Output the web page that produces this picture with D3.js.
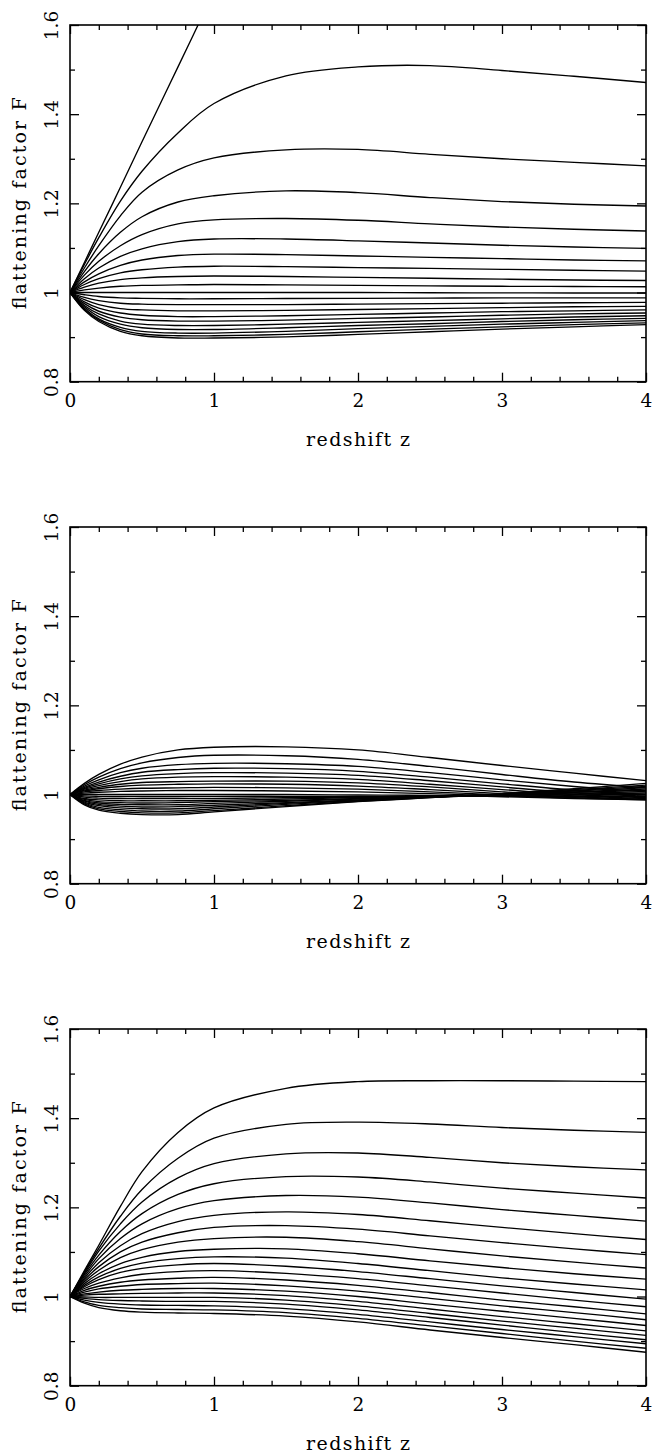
<!DOCTYPE html>
<html><head><meta charset="utf-8">
<script src="https://cdn.jsdelivr.net/npm/d3@7"></script>
<style>body{margin:0;background:#fff}svg{display:block}</style>
</head><body><svg id="c" width="654" height="1454"></svg>
<script>
// ---- data ----
const redshift = [0, 0.1, 0.2, 0.35, 0.5, 0.75, 1, 1.5, 2, 2.5, 3, 3.5, 4];

const panel1 = [
  [1, 1.0675, 1.135, 1.236, 1.338, 1.506, 1.675, null, null, null, null, null, null],
  [1, 1.063, 1.123, 1.205, 1.272, 1.358, 1.424, 1.486, 1.506, 1.509, 1.498, 1.485, 1.471],
  [1, 1.055, 1.105, 1.172, 1.225, 1.275, 1.302, 1.32, 1.321, 1.31, 1.30, 1.292, 1.284],
  [1, 1.047, 1.087, 1.135, 1.17, 1.203, 1.217, 1.228, 1.224, 1.213, 1.204, 1.198, 1.194],
  [1, 1.039, 1.07, 1.105, 1.13, 1.154, 1.163, 1.166, 1.162, 1.154, 1.147, 1.142, 1.138],
  [1, 1.031, 1.055, 1.081, 1.098, 1.114, 1.12, 1.12, 1.116, 1.111, 1.106, 1.102, 1.099],
  [1, 1.024, 1.042, 1.061, 1.073, 1.083, 1.086, 1.085, 1.082, 1.079, 1.076, 1.073, 1.071],
  [1, 1.018, 1.031, 1.044, 1.051, 1.057, 1.059, 1.058, 1.056, 1.054, 1.052, 1.05, 1.048],
  [1, 1.012, 1.021, 1.029, 1.033, 1.036, 1.037, 1.036, 1.034, 1.032, 1.030, 1.028, 1.027],
  [1, 1.006, 1.010, 1.014, 1.016, 1.017, 1.018, 1.017, 1.016, 1.015, 1.014, 1.0135, 1.013],
  [1, 1, 1, 1, 1, 1, 1, 1, 1, 0.9995, 0.9993, 0.999, 0.999],
  [1, 0.995, 0.991, 0.988, 0.987, 0.986, 0.986, 0.9865, 0.987, 0.9875, 0.988, 0.988, 0.988],
  [1, 0.989, 0.982, 0.976, 0.974, 0.973, 0.973, 0.973, 0.974, 0.975, 0.976, 0.977, 0.978],
  [1, 0.984, 0.973, 0.964, 0.961, 0.959, 0.959, 0.960, 0.962, 0.964, 0.966, 0.968, 0.969],
  [1, 0.979, 0.965, 0.954, 0.949, 0.946, 0.946, 0.948, 0.951, 0.954, 0.957, 0.959, 0.961],
  [1, 0.975, 0.958, 0.945, 0.939, 0.936, 0.936, 0.938, 0.942, 0.945, 0.949, 0.952, 0.954],
  [1, 0.971, 0.952, 0.936, 0.929, 0.926, 0.926, 0.929, 0.933, 0.937, 0.941, 0.945, 0.948],
  [1, 0.968, 0.946, 0.929, 0.921, 0.917, 0.917, 0.921, 0.926, 0.930, 0.935, 0.939, 0.942],
  [1, 0.965, 0.941, 0.922, 0.913, 0.909, 0.909, 0.913, 0.919, 0.924, 0.929, 0.933, 0.937],
  [1, 0.962, 0.938, 0.917, 0.907, 0.903, 0.903, 0.906, 0.912, 0.918, 0.923, 0.928, 0.932],
  [1, 0.960, 0.935, 0.913, 0.903, 0.898, 0.898, 0.9005, 0.906, 0.912, 0.918, 0.923, 0.928]
];

const panel2 = [
  [1, 1.025, 1.045, 1.068, 1.084, 1.100, 1.106, 1.107, 1.100, 1.083, 1.065, 1.048, 1.031],
  [1, 1.022, 1.039, 1.058, 1.071, 1.083, 1.088, 1.087, 1.079, 1.063, 1.045, 1.028, 1.015],
  [1, 1.019, 1.033, 1.049, 1.059, 1.067, 1.070, 1.069, 1.063, 1.049, 1.033, 1.018, 1.006],
  [1, 1.016, 1.028, 1.041, 1.050, 1.056, 1.059, 1.058, 1.052, 1.039, 1.024, 1.010, 1.000],
  [1, 1.014, 1.024, 1.035, 1.042, 1.047, 1.049, 1.048, 1.043, 1.031, 1.017, 1.004, 0.996],
  [1, 1.012, 1.020, 1.029, 1.035, 1.039, 1.040, 1.039, 1.034, 1.023, 1.011, 1.000, 0.993],
  [1, 1.010, 1.016, 1.023, 1.027, 1.029, 1.030, 1.030, 1.026, 1.017, 1.006, 0.997, 0.991],
  [1, 1.008, 1.013, 1.018, 1.021, 1.023, 1.024, 1.023, 1.019, 1.011, 1.002, 0.995, 0.989],
  [1, 1.006, 1.009, 1.012, 1.014, 1.015, 1.016, 1.015, 1.012, 1.006, 0.999, 0.993, 0.989],
  [1, 1.003, 1.005, 1.007, 1.008, 1.009, 1.009, 1.008, 1.006, 1.002, 0.997, 0.992, 0.988],
  [1, 1, 1, 1, 1, 1, 1, 1, 0.999, 0.998, 0.995, 0.991, 0.988],
  [1, 0.997, 0.996, 0.9955, 0.9955, 0.9955, 0.996, 0.996, 0.996, 0.996, 0.996, 0.996, 0.996],
  [1, 0.994, 0.992, 0.991, 0.991, 0.991, 0.991, 0.993, 0.994, 0.996, 0.998, 0.999, 1.000],
  [1, 0.991, 0.988, 0.986, 0.986, 0.986, 0.987, 0.990, 0.993, 0.996, 0.999, 1.001, 1.003],
  [1, 0.989, 0.984, 0.982, 0.981, 0.982, 0.984, 0.987, 0.991, 0.995, 0.999, 1.003, 1.006],
  [1, 0.987, 0.981, 0.978, 0.977, 0.977, 0.980, 0.985, 0.990, 0.995, 1.000, 1.005, 1.009],
  [1, 0.985, 0.978, 0.974, 0.972, 0.973, 0.976, 0.982, 0.988, 0.994, 1.000, 1.006, 1.012],
  [1, 0.983, 0.975, 0.970, 0.968, 0.968, 0.972, 0.980, 0.987, 0.994, 1.001, 1.008, 1.015],
  [1, 0.981, 0.971, 0.966, 0.963, 0.963, 0.968, 0.978, 0.986, 0.994, 1.001, 1.009, 1.018],
  [1, 0.979, 0.968, 0.962, 0.959, 0.959, 0.964, 0.975, 0.985, 0.993, 1.001, 1.011, 1.021],
  [1, 0.977, 0.965, 0.958, 0.955, 0.955, 0.961, 0.973, 0.984, 0.993, 1.002, 1.013, 1.025]
];

const panel3 = [
  [1, 1.058, 1.115, 1.202, 1.280, 1.368, 1.423, 1.467, 1.482, 1.484, 1.484, 1.483, 1.482],
  [1, 1.055, 1.108, 1.180, 1.240, 1.310, 1.355, 1.386, 1.391, 1.387, 1.379, 1.373, 1.368],
  [1, 1.052, 1.102, 1.163, 1.212, 1.266, 1.298, 1.320, 1.322, 1.312, 1.300, 1.291, 1.284],
  [1, 1.049, 1.093, 1.146, 1.186, 1.229, 1.253, 1.269, 1.268, 1.257, 1.243, 1.232, 1.221],
  [1, 1.045, 1.085, 1.130, 1.163, 1.197, 1.215, 1.2265, 1.223, 1.210, 1.195, 1.182, 1.169],
  [1, 1.041, 1.076, 1.114, 1.141, 1.168, 1.182, 1.190, 1.184, 1.170, 1.155, 1.141, 1.128],
  [1, 1.037, 1.067, 1.100, 1.122, 1.143, 1.155, 1.159, 1.151, 1.136, 1.121, 1.107, 1.094],
  [1, 1.033, 1.059, 1.087, 1.105, 1.122, 1.130, 1.133, 1.123, 1.107, 1.091, 1.077, 1.064],
  [1, 1.029, 1.051, 1.074, 1.088, 1.101, 1.106, 1.107, 1.096, 1.080, 1.065, 1.051, 1.039],
  [1, 1.025, 1.044, 1.063, 1.075, 1.085, 1.089, 1.086, 1.074, 1.058, 1.042, 1.028, 1.015],
  [1, 1.022, 1.038, 1.054, 1.063, 1.071, 1.074, 1.068, 1.056, 1.040, 1.024, 1.009, 0.994],
  [1, 1.018, 1.030, 1.042, 1.050, 1.056, 1.058, 1.052, 1.040, 1.024, 1.008, 0.992, 0.977],
  [1, 1.014, 1.023, 1.032, 1.037, 1.041, 1.043, 1.037, 1.025, 1.009, 0.992, 0.977, 0.961],
  [1, 1.010, 1.017, 1.023, 1.027, 1.029, 1.030, 1.024, 1.012, 0.996, 0.979, 0.964, 0.948],
  [1, 1.006, 1.010, 1.014, 1.016, 1.018, 1.018, 1.012, 1.000, 0.983, 0.967, 0.951, 0.935],
  [1, 1.003, 1.005, 1.006, 1.007, 1.008, 1.008, 1.002, 0.989, 0.972, 0.955, 0.939, 0.923],
  [1, 0.999, 0.998, 0.998, 0.998, 0.998, 0.998, 0.992, 0.979, 0.962, 0.945, 0.929, 0.913],
  [1, 0.996, 0.993, 0.991, 0.990, 0.989, 0.989, 0.983, 0.970, 0.953, 0.936, 0.919, 0.903],
  [1, 0.992, 0.987, 0.983, 0.981, 0.980, 0.979, 0.973, 0.960, 0.943, 0.926, 0.910, 0.894],
  [1, 0.988, 0.980, 0.975, 0.972, 0.971, 0.970, 0.964, 0.951, 0.934, 0.917, 0.900, 0.884],
  [1, 0.985, 0.975, 0.968, 0.965, 0.963, 0.962, 0.956, 0.943, 0.925, 0.908, 0.892, 0.875]
];

const xMajorTicks = [0, 1, 2, 3, 4];
const xTickLabels = ["0", "1", "2", "3", "4"];
const xMinorTicks = [0.2, 0.4, 0.6, 0.8, 1.2, 1.4, 1.6, 1.8, 2.2, 2.4, 2.6, 2.8, 3.2, 3.4, 3.6, 3.8];
const yMajorTicks = [0.8, 1.0, 1.2, 1.4, 1.6];
const yTickLabels = ["0.8", "1", "1.2", "1.4", "1.6"];
const yMinorTicks = [0.9, 1.1, 1.3, 1.5];
const xTitle = "redshift z";
const yTitle = "flattening factor F";

// ---- drawing ----
const FONT = "DejaVu Serif, Liberation Serif, serif";
const svg = d3.select("#c");
const L = 70, R = 646, PH = 356.7;
const tops = [25, 527, 1029];
const x = d3.scaleLinear().domain([0, 4]).range([L, R]);

function styleAxis(g) {
  g.select(".domain").remove();
  g.selectAll(".tick line").attr("stroke", "#000").attr("stroke-width", 1.3);
  g.attr("font-family", FONT).attr("font-size", 18.5);
  g.selectAll("text").attr("fill", "#000");
}

[panel1, panel2, panel3].forEach((data, i) => {
  const t = tops[i], b = t + PH;
  const y = d3.scaleLinear().domain([0.8, 1.6]).range([b, t]);
  const g = svg.append("g");

  g.append("clipPath").attr("id", "clip" + i)
    .append("rect").attr("x", L).attr("y", t).attr("width", R - L).attr("height", PH);

  const line = d3.line()
    .defined(d => d[1] != null)
    .x(d => x(d[0])).y(d => y(d[1]))
    .curve(d3.curveCatmullRom.alpha(0.5));

  g.append("g").attr("clip-path", `url(#clip${i})`)
    .selectAll("path").data(data).join("path")
    .attr("d", row => line(row.map((v, j) => [redshift[j], v])))
    .attr("fill", "none").attr("stroke", "#000").attr("stroke-width", 1.35);

  // bottom axis
  g.append("g").attr("transform", `translate(0,${b})`)
    .call(d3.axisBottom(x).tickValues(xMajorTicks).tickSize(-9).tickSizeOuter(0)
      .tickPadding(12).tickFormat((d, k) => xTickLabels[k]))
    .call(styleAxis);
  g.append("g").attr("transform", `translate(0,${b})`)
    .call(d3.axisBottom(x).tickValues(xMinorTicks).tickSize(-5).tickSizeOuter(0).tickFormat(""))
    .call(styleAxis);
  // top axis
  g.append("g").attr("transform", `translate(0,${t})`)
    .call(d3.axisTop(x).tickValues(xMajorTicks).tickSize(-9).tickSizeOuter(0).tickFormat(""))
    .call(styleAxis);
  g.append("g").attr("transform", `translate(0,${t})`)
    .call(d3.axisTop(x).tickValues(xMinorTicks).tickSize(-5).tickSizeOuter(0).tickFormat(""))
    .call(styleAxis);
  // left axis
  const la = g.append("g").attr("transform", `translate(${L},0)`)
    .call(d3.axisLeft(y).tickValues(yMajorTicks).tickSize(-9).tickSizeOuter(0)
      .tickFormat((d, k) => yTickLabels[k]))
    .call(styleAxis);
  la.selectAll(".tick text")
    .attr("transform", "rotate(-90)")
    .attr("x", 0).attr("y", -12).attr("dy", 0)
    .attr("text-anchor", "middle");
  g.append("g").attr("transform", `translate(${L},0)`)
    .call(d3.axisLeft(y).tickValues(yMinorTicks).tickSize(-5).tickSizeOuter(0).tickFormat(""))
    .call(styleAxis);
  // right axis
  g.append("g").attr("transform", `translate(${R},0)`)
    .call(d3.axisRight(y).tickValues(yMajorTicks).tickSize(-9).tickSizeOuter(0).tickFormat(""))
    .call(styleAxis);
  g.append("g").attr("transform", `translate(${R},0)`)
    .call(d3.axisRight(y).tickValues(yMinorTicks).tickSize(-5).tickSizeOuter(0).tickFormat(""))
    .call(styleAxis);

  // frame
  g.append("rect").attr("x", L).attr("y", t).attr("width", R - L).attr("height", PH)
    .attr("fill", "none").attr("stroke", "#000").attr("stroke-width", 1.6);

  // titles
  g.append("text").attr("x", (L + R) / 2).attr("y", t + 421)
    .attr("text-anchor", "middle").attr("font-family", FONT).attr("font-size", 19)
    .attr("textLength", 104).attr("lengthAdjust", "spacing")
    .text(xTitle);
  g.append("text").attr("transform", `translate(26,${(t + b) / 2}) rotate(-90)`)
    .attr("text-anchor", "middle").attr("font-family", FONT).attr("font-size", 19)
    .attr("textLength", 212).attr("lengthAdjust", "spacing")
    .text(yTitle);
});
</script>
</body></html>
